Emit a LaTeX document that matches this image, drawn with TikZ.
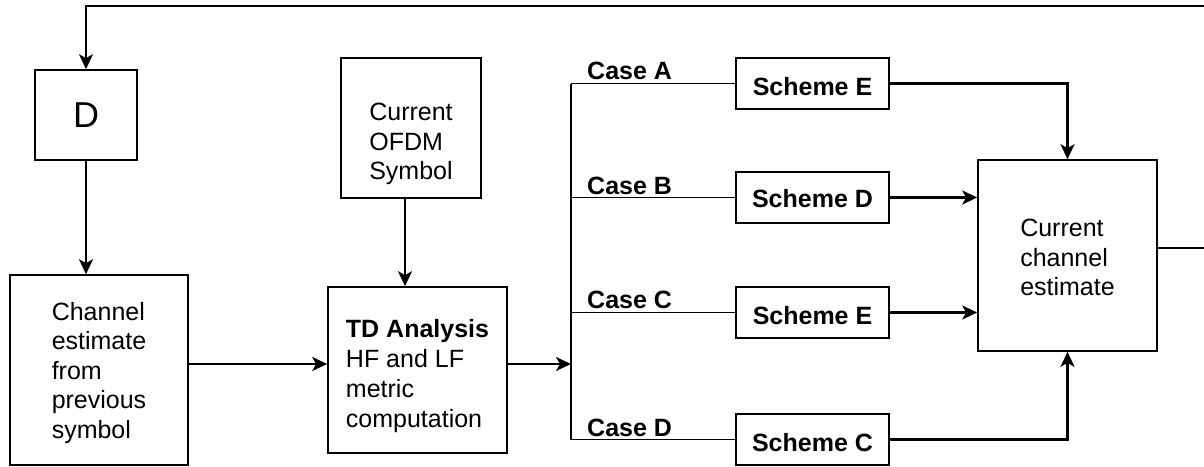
\documentclass[tikz,border=0pt]{standalone}
\usepackage{fontspec}
\setmainfont{Liberation Sans}
\usetikzlibrary{arrows.meta}
\begin{document}
\begin{tikzpicture}[x=1pt,y=-1pt,
  frame/.style={draw, line width=1.6pt, inner sep=0pt},
  txt/.style={inner sep=0pt, align=left, font=\fontsize{25}{29.5}\selectfont},
  sch/.style={draw, line width=1.6pt, minimum width=153pt, minimum height=51pt, inner sep=0pt},
  schtxt/.style={inner sep=0pt, font=\bfseries\fontsize{25}{29}\selectfont},
  lbl/.style={anchor=base west, inner sep=0pt, font=\bfseries\fontsize{25}{29}\selectfont},
  arr/.style={-{Stealth[length=15pt,width=14pt,inset=4pt]}, line width=2.6pt},
  thickarr/.style={arr, line width=3.2pt},
  thinline/.style={line width=1.5pt}]
\useasboundingbox (0,0) rectangle (1204,466);
% boxes
\node[frame, minimum width=102pt, minimum height=90pt, font=\fontsize{36}{40}\selectfont] (D) at (86,115) {D};
\node[frame, minimum width=178pt, minimum height=190pt] (chan) at (99,370) {};
\node[txt, yshift=-3pt] (chant) at (chan) {Channel\\estimate\\from\\previous\\symbol};
\node[frame, minimum width=140pt, minimum height=140pt] (ofdm) at (411,128) {};
\node[txt, yshift=-16pt] (ofdmt) at (ofdm) {Current\\OFDM\\Symbol};
\node[frame, minimum width=179pt, minimum height=166pt] (td) at (417.5,370) {};
\node[txt, yshift=-6pt, font=\fontsize{25}{30.2}\selectfont] (tdt) at (td) {\textbf{TD Analysis}\\HF and LF\\metric\\computation};
\node[frame, minimum width=179pt, minimum height=191pt] (cur) at (1067.5,255.5) {};
\node[txt, yshift=-2pt] (curt) at (cur) {Current\\channel\\estimate};
% scheme boxes
\node[sch] (s1) at (812.5,83.5) {};
\node[schtxt, yshift=-3pt] (s1t) at (s1) {Scheme E};
\node[sch] (s2) at (812.5,197.5) {};
\node[schtxt, yshift=-1pt] (s2t) at (s2) {Scheme D};
\node[sch] (s3) at (812.5,312.5) {};
\node[schtxt, yshift=-3pt] (s3t) at (s3) {Scheme E};
\node[sch] (s4) at (812.5,439.5) {};
\node[schtxt, yshift=-3pt] (s4t) at (s4) {Scheme C};
% labels
\node[lbl] (la) at (587,79) {Case A};
\node[lbl] (lb) at (587,194) {Case B};
\node[lbl] (lc) at (587,308) {Case C};
\node[lbl] (ld) at (587,436) {Case D};
% coordinates
\coordinate (fbR) at (1204,6);
\coordinate (outR) at (1204,248);
\coordinate (br) at (571,364);
\coordinate (ax) at (405,0);
% connectors
\draw[arr, line width=1.8pt] (fbR) -- (D.north |- fbR) -- (D.north);
\draw[arr] (D.south) -- (D.south |- chan.north);
\draw[arr] (chan.east |- br) -- (td.west |- br);
\draw[arr] (ofdm.south -| ax) -- (td.north -| ax);
\draw[arr] (td.east |- br) -- (br);
\draw[thinline] (br |- s1.west) -- (br |- s4.west);
\draw[thinline] (br |- s1.west) -- (s1.west);
\draw[thinline] (br |- s2.west) -- (s2.west);
\draw[thinline] (br |- s3.west) -- (s3.west);
\draw[thinline] (br |- s4.west) -- (s4.west);
\draw[arr] (s1.east) -- (cur.north |- s1.east) -- (cur.north);
\draw[thickarr] (s2.east) -- (cur.west |- s2.east);
\draw[thickarr] (s3.east) -- (cur.west |- s3.east);
\draw[arr] (s4.east) -- (cur.south |- s4.east) -- (cur.south);
\draw[thinline] (cur.east |- outR) -- (outR);
\end{tikzpicture}
\end{document}
